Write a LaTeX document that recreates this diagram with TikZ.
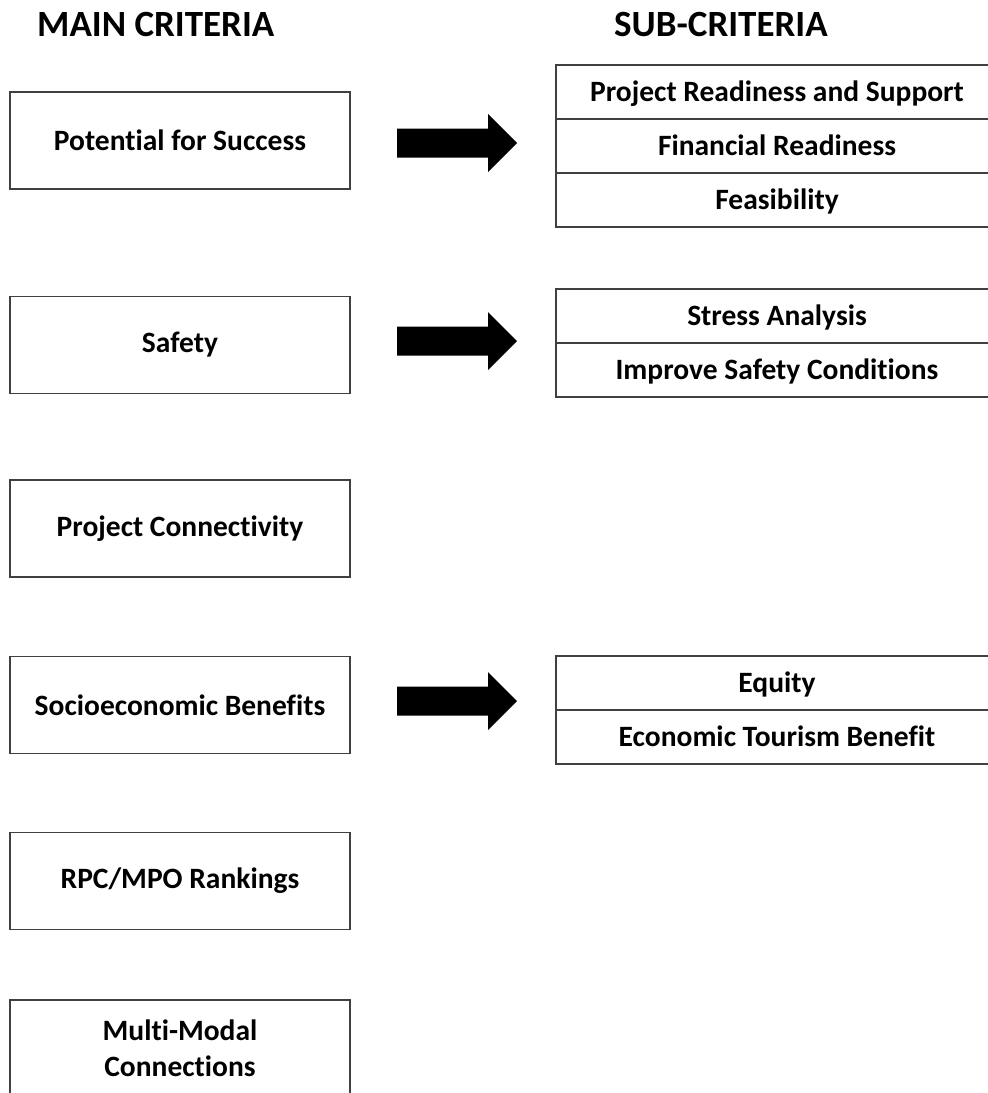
\documentclass[tikz,border=0pt]{standalone}
\usepackage{fontspec}
\setmainfont[Ligatures=NoCommon]{Carlito}
\usetikzlibrary{positioning}

\begin{document}
\begin{tikzpicture}[x=1pt,y=1pt]
\tikzset{mainbox/.style={draw=black!75,line width=1.4pt,minimum width=340pt,minimum height=97pt,align=center,font=\bfseries\fontsize{29.5}{36}\selectfont}}
\tikzset{subrow/.style={draw=black!75,line width=1.4pt,minimum width=442pt,minimum height=54pt,outer sep=0pt,text height=23pt,text depth=4pt,font=\bfseries\fontsize{29.5}{36}\selectfont}}
\tikzset{heading/.style={anchor=base west,inner sep=0pt,font=\bfseries\fontsize{37}{44}\selectfont}}
\tikzset{node distance=0pt}
\useasboundingbox (0,0) rectangle (988,-1093);
% headings
\node[heading] (mainhead) at (37,-36) {MAIN CRITERIA};
\node[heading] (subhead) at (614,-36) {SUB-CRITERIA};
% main criteria
\node[mainbox] (success) at (180,-140.5) {Potential for Success};
\node[mainbox] (safety) at (180,-345) {Safety};
\node[mainbox] (connect) at (180,-528.5) {Project Connectivity};
\node[mainbox] (socio) at (180,-705) {Socioeconomic Benefits};
\node[mainbox] (rank) at (180,-881) {RPC/MPO Rankings};
\node[mainbox] (modal) at (180,-1048.5) {Multi-Modal\\Connections};
% sub-criteria
\node[subrow] (ready) at (777,-92) {Project Readiness and Support};
\node[subrow,below=of ready] (finance) {Financial Readiness};
\node[subrow,below=of finance] (feasible) {Feasibility};
\node[subrow] (stress) at (777,-316) {Stress Analysis};
\node[subrow,below=of stress] (improve) {Improve Safety Conditions};
\node[subrow] (equity) at (777,-683) {Equity};
\node[subrow,below=of equity] (tourism) {Economic Tourism Benefit};
% block arrows
\coordinate (arr1) at (397,-143);
\coordinate (arr2) at (397,-341);
\coordinate (arr3) at (397,-701);
\foreach \a in {arr1,arr2,arr3}
  \fill (\a) ++(0,14.5) -- ++(91,0) -- ++(0,14.5) -- ++(29,-29) -- ++(-29,-29) -- ++(0,14.5) -- ++(-91,0) -- cycle;
\end{tikzpicture}
\end{document}
